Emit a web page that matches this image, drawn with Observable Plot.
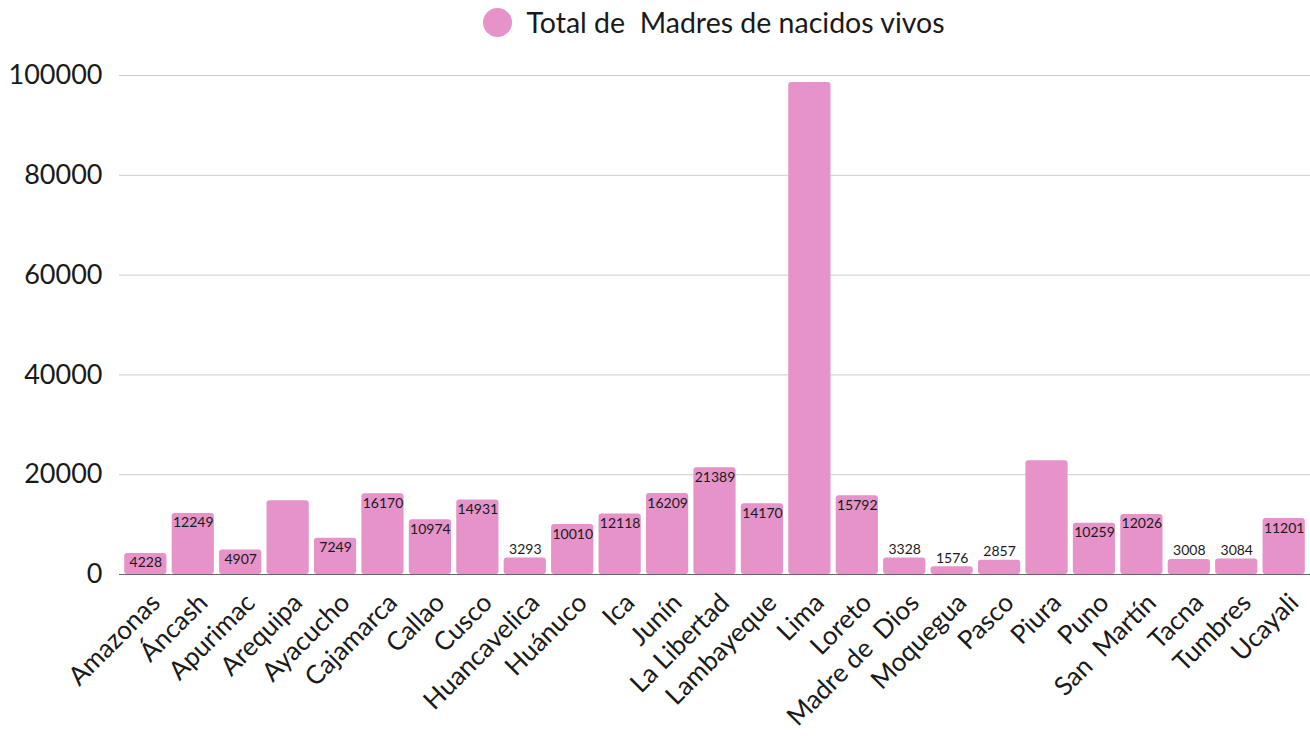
<!DOCTYPE html>
<html><head><meta charset="utf-8">
<script src="https://cdn.jsdelivr.net/npm/d3@7"></script>
<script src="https://cdn.jsdelivr.net/npm/@observablehq/plot@0.6"></script>
<style>
body{margin:0;background:#fff;font-family:Lato,sans-serif}
#legend{height:44px;display:flex;align-items:center;justify-content:center;padding-left:118px;box-sizing:border-box;width:1310px;font-size:28.5px;color:#1a1a1a}
.sw{display:inline-block;width:29px;height:29px;border-radius:50%;background:#E593C9;margin-right:14px}
</style></head><body>
<div id="legend"><span class="sw"></span><span>Total de&nbsp; Madres de nacidos vivos</span></div>
<div id="chart"></div>
<script>
const regions = ["Amazonas","Áncash","Apurimac","Arequipa","Ayacucho","Cajamarca","Callao","Cusco","Huancavelica","Huánuco","Ica","Junín","La Libertad","Lambayeque","Lima","Loreto","Madre de  Dios","Moquegua","Pasco","Piura","Puno","San  Martín","Tacna","Tumbres","Ucayali"];
const totals = [4228,12249,4907,14800,7249,16170,10974,14931,3293,10010,12118,16209,21389,14170,98600,15792,3328,1576,2857,22800,10259,12026,3008,3084,11201];
const unlabeled = ["Arequipa","Lima","Piura"];
const yTicks = [0,20000,40000,60000,80000,100000];

const data = regions.map((r,i)=>({region:r,value:totals[i]}));
const labeled = data.filter(d=>!unlabeled.includes(d.region));
const inside = labeled.filter(d=>d.value>=4000);
const above = labeled.filter(d=>d.value<4000);

const chart = Plot.plot({
  width:1310, height:693,
  marginTop:31, marginBottom:163, marginLeft:119, marginRight:0,
  style:{fontFamily:"Lato, sans-serif", background:"white", color:"#1a1a1a"},
  x:{domain:regions, padding:0.11, round:false, label:null},
  y:{domain:[0,100000], label:null},
  marks:[
    Plot.ruleY(yTicks.filter(t=>t>0),{stroke:"#cccccc"}),
    Plot.barY(data,{x:"region",y:"value",fill:"#E593C9",rx:3}),
    Plot.ruleY([0],{stroke:"#666666"}),
    Plot.text(inside,{x:"region",y:"value",text:d=>String(d.value),lineAnchor:"top",dy:4,fontSize:14,fill:"#1a1a1a"}),
    Plot.text(above,{x:"region",y:"value",text:d=>String(d.value),lineAnchor:"bottom",dy:-4,fontSize:14,fill:"#1a1a1a"}),
    Plot.axisY({ticks:yTicks, tickSize:0, tickPadding:17, fontSize:27, tickFormat:d=>String(d), label:null}),
    Plot.axisX({tickRotate:-45, tickSize:0, tickPadding:24, dx:10, fontSize:26, label:null})
  ]
});
document.getElementById("chart").appendChild(chart);
</script>
</body></html>
